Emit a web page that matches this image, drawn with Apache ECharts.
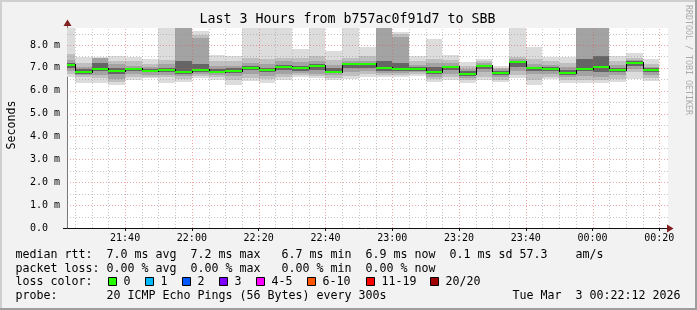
<!DOCTYPE html>
<html><head><meta charset="utf-8">
<script src="https://cdn.jsdelivr.net/npm/echarts@6/dist/echarts.min.js"></script>
<style>html,body{margin:0;padding:0;background:#f2f2f2;overflow:hidden}#c{width:697px;height:310px}</style>
</head><body><div id="c"></div><script>
// ---------- data ----------
const stepStart = ['21:20','21:25','21:30','21:35','21:40','21:45','21:50','21:55',
  '22:00','22:05','22:10','22:15','22:20','22:25','22:30','22:35','22:40','22:45','22:50','22:55',
  '23:00','23:05','23:10','23:15','23:20','23:25','23:30','23:35','23:40','23:45','23:50','23:55',
  '00:00','00:05','00:10','00:15'];
const stepMinutes = 5;
// median rtt (ms)
const median = [7.14,6.82,6.96,6.88,6.96,6.88,6.91,6.82,6.90,6.83,6.88,7.00,6.92,7.04,6.98,7.08,6.82,7.15,7.15,7.01,
  6.96,6.97,6.83,7.05,6.73,7.10,6.79,7.24,7.01,6.95,6.79,6.97,7.05,6.92,7.22,6.91];
// smoke bands, outer (lightest) to inner (darkest), upper edges (ms)
const smokeHi1 = [9.0,7.46,7.46,7.52,7.46,7.38,9.0,9.5,8.62,7.55,7.50,9.0,9.0,9.0,7.82,9.0,7.72,9.0,7.92,9.5,
  8.58,7.52,8.26,7.55,7.27,7.40,7.10,9.0,7.92,7.46,7.46,9.5,9.5,7.50,7.65,7.38];
const smokeHi2 = [7.60,7.20,7.45,7.30,7.30,7.15,7.35,9.3,8.45,7.30,7.30,7.45,7.40,7.45,7.45,7.50,7.35,7.45,7.50,9.3,
  8.50,7.30,7.40,7.35,7.10,7.28,7.00,7.48,7.40,7.30,7.20,9.3,9.3,7.30,7.45,7.15];
const smokeHi3 = [7.35,7.05,7.44,7.15,7.10,7.02,7.15,9.0,8.30,7.10,7.10,7.20,7.15,7.30,7.25,7.30,7.12,7.30,7.30,9.0,
  8.35,7.12,7.20,7.22,6.95,7.20,6.95,7.38,7.15,7.12,7.05,9.0,9.0,7.12,7.35,7.05];
const smokeHi4 = [7.22,6.93,7.20,7.00,7.00,6.95,7.00,7.30,7.15,6.95,6.98,7.08,7.00,7.12,7.08,7.15,6.98,7.20,7.20,7.30,
  7.20,7.02,7.05,7.10,6.85,7.13,6.88,7.30,7.05,7.02,6.92,7.40,7.50,7.00,7.28,6.98];
// smoke bands, lower edges (ms)
const smokeLo4 = [6.98,6.75,6.85,6.72,6.85,6.80,6.80,6.75,6.82,6.76,6.78,6.90,6.80,6.90,6.88,6.90,6.76,7.00,6.98,6.88,
  6.88,6.88,6.75,6.90,6.65,6.95,6.70,7.05,6.88,6.85,6.70,6.85,6.80,6.82,7.08,6.82];
const smokeLo3 = [6.88,6.68,6.70,6.50,6.72,6.70,6.70,6.65,6.75,6.68,6.65,6.75,6.65,6.75,6.78,6.75,6.67,6.82,6.85,6.78,
  6.78,6.80,6.62,6.75,6.55,6.80,6.58,6.85,6.72,6.72,6.58,6.65,6.60,6.68,6.95,6.70];
const smokeLo2 = [6.75,6.58,6.55,6.40,6.60,6.62,6.60,6.50,6.65,6.58,6.45,6.55,6.50,6.60,6.68,6.65,6.57,6.65,6.72,6.70,
  6.68,6.72,6.50,6.60,6.45,6.62,6.47,6.68,6.45,6.60,6.45,6.45,6.45,6.52,6.80,6.55];
const smokeLo1 = [6.60,6.36,6.35,6.27,6.45,6.55,6.35,6.38,6.55,6.45,6.27,6.42,6.32,6.48,6.58,6.57,6.48,6.50,6.62,6.60,
  6.60,6.65,6.40,6.47,6.33,6.47,6.37,6.55,6.27,6.52,6.35,6.35,6.32,6.40,6.50,6.42];
// axes
const xLabels = ['21:40','22:00','22:20','22:40','23:00','23:20','23:40','00:00','00:20'];
const yLabels = [0,1,2,3,4,5,6,7,8];
const xWindow = ['21:22:36','00:22:36'];
const yMax = 8.743;
// legend
const titleText = 'Last 3 Hours from b757ac0f91d7 to SBB';
const legendLines = [
  'median rtt:  7.0 ms avg  7.2 ms max   6.7 ms min  6.9 ms now  0.1 ms sd 57.3    am/s',
  'packet loss: 0.00 % avg  0.00 % max   0.00 % min  0.00 % now',
  'loss color:',
  'probe:       20 ICMP Echo Pings (56 Bytes) every 300s'
];
const lossLabels = ['0','1','2','3','4-5','6-10','11-19','20/20'];
const lossColors = ['#26ff00','#00b8ff','#0059ff','#7e00ff','#ff00ff','#ff5500','#ff0000','#a10000'];
const dateText = 'Tue Mar  3 00:22:12 2026';

// ---------- helpers ----------
function toMin(s){ const p = s.split(':').map(Number); let h = p[0]; if (h < 12) h += 24; return (h*60 + p[1] + (p[2]||0)/60) - 21*60; }
function fmt(m){ let t = Math.round(m) + 21*60; const h = Math.floor(t/60)%24, mm = t%60; return String(h).padStart(2,'0')+':'+String(mm).padStart(2,'0'); }
const xMin = toMin(xWindow[0]), xMax = toMin(xWindow[1]);

const smokeData = stepStart.map((s,i)=>{ const a = toMin(s); return [a, a+stepMinutes, smokeHi1[i], smokeHi2[i], smokeHi3[i], smokeHi4[i], smokeLo4[i], smokeLo3[i], smokeLo2[i], smokeLo1[i]]; });
const medData = stepStart.map((s,i)=>{ const a = toMin(s); return [a, a+stepMinutes, median[i]]; });

const hGrid = [];
for (let v = 0.5; v < yMax; v += 0.5) hGrid.push([xMin, v, Math.abs(v-Math.round(v))<1e-6 ? 1 : 0]);
const xLabelMin = xLabels.map(toMin);
const vGrid = [];
for (let t = Math.ceil(xMin/5)*5; t < xMax; t += 5) vGrid.push([t, 0, (t % 20 === 0) ? 1 : 0]);

const MONO = 'DejaVu Sans Mono';
const smokeColors = ['#dcdcdc','#bfbfbf','#a3a3a3','#656565'];

function clampY(v){ return Math.min(Math.max(v, 0), yMax); }
function renderSmoke(params, api){
  const s = Math.max(api.value(0), xMin), e = Math.min(api.value(1), xMax);
  const children = [];
  for (let k=0;k<4;k++){
    const hi = clampY(api.value(2+k)), lo = clampY(api.value(9-k));
    const p1 = api.coord([s, hi]), p2 = api.coord([e, lo]);
    const x1 = Math.round(p1[0]), x2 = Math.round(p2[0]);
    const y1 = Math.round(p1[1]), y2 = Math.round(p2[1]);
    children.push({type:'rect', shape:{x:x1, y:y1, width:x2-x1, height:Math.max(y2-y1,0)}, style:{fill:smokeColors[k]}});
  }
  return {type:'group', children};
}
function renderMedian(params, api){
  const i = params.dataIndex;
  const s = Math.max(api.value(0), xMin), e = Math.min(api.value(1), xMax), m = api.value(2);
  const a = api.coord([s, m]), b = api.coord([e, m]);
  const x1 = Math.round(a[0]), x2 = Math.round(b[0]), y = Math.round(a[1]);
  const children = [];
  if (i > 0){
    const p = api.coord([s, median[i-1]]);
    const py = Math.round(p[1]);
    children.push({type:'line', shape:{x1:x1+0.5, y1:Math.min(py,y)-1, x2:x1+0.5, y2:Math.max(py,y)+1}, style:{stroke:'#000', lineWidth:1}});
  }
  children.push({type:'rect', shape:{x:x1, y:y-1, width:x2-x1, height:2}, style:{fill:lossColors[0]}});
  return {type:'group', children};
}
const MAJ = 'rgba(222,79,79,0.5)', MINC = 'rgba(143,143,143,0.5)';
function renderH(params, api){
  const v = api.value(1), major = api.value(2);
  const p1 = api.coord([xMin, v]), p2 = api.coord([xMax, v]);
  const y = Math.round(p1[1]) + 0.5;
  return {type:'line', shape:{x1:p1[0], y1:y, x2:p2[0], y2:y}, style:{stroke: major?MAJ:MINC, lineWidth:1, lineDash:[1,2]}};
}
function renderV(params, api){
  const t = api.value(0), major = api.value(2);
  const p1 = api.coord([t, 0]), p2 = api.coord([t, yMax]);
  const x = Math.round(p1[0]) + 0.5;
  return {type:'line', shape:{x1:x, y1:p1[1], x2:x, y2:p2[1]}, style:{stroke: major?MAJ:MINC, lineWidth:1, lineDash:[1,2]}};
}

// ---------- graphic decorations ----------
const F = (px)=>px+'px "'+MONO+'"';
const graphics = [
  {type:'rect', shape:{x:0,y:0,width:697,height:2}, style:{fill:'#cfcfcf'}, silent:true},
  {type:'rect', shape:{x:0,y:0,width:2,height:310}, style:{fill:'#cfcfcf'}, silent:true},
  {type:'rect', shape:{x:0,y:308,width:697,height:2}, style:{fill:'#9e9e9e'}, silent:true},
  {type:'rect', shape:{x:695,y:0,width:2,height:310}, style:{fill:'#9e9e9e'}, silent:true},
  {type:'text', x:347.5, y:19.5, style:{text:titleText, font:F(13.3), fill:'#000', textAlign:'center', textVerticalAlign:'middle'}},
  {type:'text', x:11.5, y:125, rotation:Math.PI/2, style:{text:'Seconds', font:F(11.6), fill:'#000', textAlign:'center', textVerticalAlign:'middle'}},
  {type:'text', x:688, y:60, rotation:-Math.PI/2, style:{text:'RRDTOOL / TOBI OETIKER', font:F(8.3), fill:'#ababab', textAlign:'center', textVerticalAlign:'middle'}},
  // axis extensions and arrows
  {type:'line', shape:{x1:67.5,y1:21,x2:67.5,y2:28}, style:{stroke:'#777', lineWidth:1}},
  {type:'polygon', shape:{points:[[63.5,26],[67.5,19.5],[71.5,26]]}, style:{fill:'#801f1f'}},
  {type:'line', shape:{x1:63,y1:228.5,x2:668,y2:228.5}, style:{stroke:'#111', lineWidth:1}},
  {type:'polygon', shape:{points:[[667,224.5],[673.5,228.5],[667,232.5]]}, style:{fill:'#801f1f'}},
  {type:'text', x:512.5, y:295.8, style:{text:dateText, font:F(11.63), fill:'#000', textVerticalAlign:'middle'}}
];
const centers = [255, 268.5, 282.2, 295.8];
legendLines.forEach((t,i)=>graphics.push({type:'text', x:15.5, y:centers[i], style:{text:t, font:F(11.63), fill:'#000', textVerticalAlign:'middle'}}));
const boxX = [108.5,145.5,182.5,219.5,256.5,307.5,366.5,430.5];
lossLabels.forEach((l,i)=>{
  graphics.push({type:'rect', shape:{x:boxX[i], y:277.5, width:8, height:8}, style:{fill:lossColors[i], stroke:'#000', lineWidth:1}});
  graphics.push({type:'text', x:boxX[i]+15, y:282.2, style:{text:l, font:F(11.63), fill:'#000', textVerticalAlign:'middle'}});
});

const chart = echarts.init(document.getElementById('c'), null, {renderer:'canvas'});
chart.setOption({
  animation:false,
  backgroundColor:'#f2f2f2',
  grid:{left:67, top:28, width:601, height:200, show:true, backgroundColor:'#ffffff', borderWidth:0, containLabel:false, outerBoundsMode:'none'},
  xAxis:{type:'value', min:xMin, max:xMax,
    axisLine:{show:false}, splitLine:{show:false},
    axisTick:{show:true, customValues:xLabelMin, length:3, lineStyle:{color:'#111'}},
    axisLabel:{customValues:xLabelMin, formatter:(v)=>fmt(v), fontFamily:MONO, fontSize:10, color:'#000', margin:5}
  },
  yAxis:{type:'value', min:0, max:yMax, interval:1,
    axisLine:{show:true, lineStyle:{color:'#777', width:1}}, splitLine:{show:false},
    axisTick:{show:false},
    axisLabel:{customValues:yLabels, fontFamily:MONO, fontSize:10, color:'#000', margin:7,
      formatter:(v)=>{ if (Math.abs(v-Math.round(v))>1e-6) return ''; return v===0 ? '0.0  ' : v.toFixed(1)+' m'; }}
  },
  graphic:graphics,
  series:[
    {type:'custom', name:'smoke', renderItem:renderSmoke, data:smokeData, encode:{x:[0,1], y:[2,3,4,5,6,7,8,9]}, clip:true, z:2, silent:true},
    {type:'custom', name:'hgrid', renderItem:renderH, data:hGrid, encode:{x:0, y:1}, z:3, silent:true},
    {type:'custom', name:'vgrid', renderItem:renderV, data:vGrid, encode:{x:0, y:1}, z:3, silent:true},
    {type:'custom', name:'median', renderItem:renderMedian, data:medData, encode:{x:[0,1], y:2}, clip:true, z:4, silent:true}
  ]
});
</script></body></html>
